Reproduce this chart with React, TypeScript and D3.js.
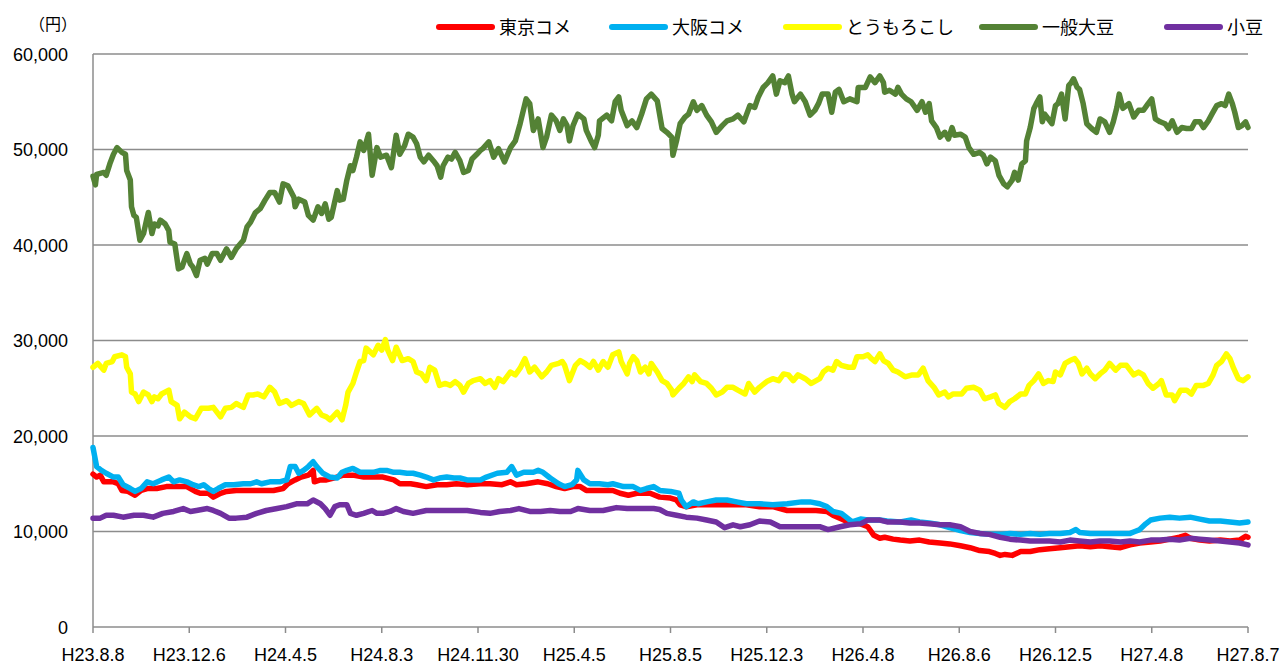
import React from 'react';
import * as d3 from 'd3';

type Pt = [number, number];

// x-axis category labels (trading-day index 0..960, one label every 80 days)
const tickLabels = ['H23.8.8', 'H23.12.6', 'H24.4.5', 'H24.8.3', 'H24.11.30', 'H25.4.5', 'H25.8.5', 'H25.12.3', 'H26.4.8', 'H26.8.6', 'H26.12.5', 'H27.4.8', 'H27.8.7'];
const tickDays = [0, 80, 160, 240, 320, 400, 480, 560, 640, 720, 800, 880, 960];
const yTicks = [0, 10000, 20000, 30000, 40000, 50000, 60000];

const seriesNames = ['東京コメ', '大阪コメ', 'とうもろこし', '一般大豆', '小豆'];
const seriesColors = ['#FF0000', '#00B0F0', '#FFFF00', '#548235', '#7030A0'];

// 東京コメ
const tokyoRice: Pt[] = [[0,16000],[3,15700],[6,15900],[9,15200],[13,15200],[17,15200],[21,15000],[24,14300],[29,14200],[35,13800],[40,14300],[45,14500],[53,14500],[61,14700],[70,14700],[78,14700],[85,14200],[89,14000],[96,14000],[100,13600],[106,14000],[111,14200],[119,14300],[128,14300],[139,14300],[150,14300],[158,14500],[162,15000],[168,15400],[173,15700],[179,15900],[183,16400],[184,15200],[189,15400],[194,15400],[200,15600],[208,15900],[216,15900],[225,15700],[233,15700],[241,15700],[250,15400],[255,15000],[264,15000],[269,14900],[277,14700],[286,14900],[294,14900],[302,15000],[311,14900],[322,15000],[330,15000],[340,14900],[347,15200],[352,14900],[360,15000],[370,15200],[378,15000],[385,14700],[392,14500],[399,14700],[405,14700],[410,14300],[419,14300],[432,14300],[438,14000],[445,13800],[452,14000],[463,14000],[471,13600],[480,13500],[485,13300],[488,12800],[493,12600],[502,12800],[510,12800],[521,12800],[532,12800],[543,12800],[554,12600],[565,12600],[577,12200],[588,12200],[596,12200],[601,12200],[610,12100],[615,11700],[624,11200],[629,11000],[638,10800],[644,10500],[649,9600],[654,9300],[658,9400],[665,9200],[671,9100],[679,9000],[687,9100],[695,8900],[704,8800],[712,8700],[721,8500],[729,8300],[737,8000],[745,7900],[750,7700],[754,7500],[758,7600],[764,7500],[771,7900],[779,7900],[787,8100],[795,8200],[804,8300],[812,8400],[820,8500],[829,8400],[837,8500],[845,8400],[854,8300],[862,8600],[870,8800],[879,8900],[887,9000],[895,9200],[903,9400],[908,9600],[912,9300],[920,9100],[928,9000],[937,9100],[945,9000],[953,9100],[958,9500],[960,9400]];

// 大阪コメ
const osakaRice: Pt[] = [[0,18800],[3,16800],[7,16400],[11,16100],[17,15700],[21,15700],[25,14900],[31,14500],[35,14200],[40,14500],[45,15200],[50,15000],[57,15400],[63,15700],[67,15200],[72,15400],[78,15200],[83,14900],[88,14700],[92,14900],[96,14500],[100,14200],[104,14500],[110,14900],[117,14900],[125,15000],[131,15000],[136,15200],[140,15000],[147,15200],[155,15200],[161,15400],[164,16800],[168,16800],[171,16100],[175,16400],[179,16800],[183,17300],[186,16800],[191,16100],[197,15700],[203,15600],[207,16200],[211,16400],[216,16600],[222,16200],[228,16200],[233,16200],[239,16400],[244,16400],[250,16200],[255,16200],[261,16100],[266,16100],[272,15900],[277,15700],[283,15400],[288,15600],[294,15700],[300,15600],[305,15600],[311,15400],[316,15400],[322,15400],[327,15700],[336,16100],[344,16200],[348,16800],[352,15900],[358,16200],[366,16200],[370,16400],[374,16200],[380,15600],[387,15000],[392,14700],[398,14900],[402,15400],[403,16400],[408,15400],[413,15000],[421,15000],[428,14900],[432,15000],[441,14700],[449,14700],[455,14300],[460,14500],[466,14700],[471,14300],[480,14200],[487,14000],[489,13300],[493,12600],[499,13100],[503,12900],[510,13100],[518,13300],[527,13300],[535,13100],[543,12900],[554,12900],[565,12800],[577,12900],[589,13100],[596,13100],[604,12900],[610,12600],[615,12100],[622,11900],[626,11500],[631,11000],[638,11300],[644,11200],[654,11200],[660,11100],[671,11000],[680,11200],[687,11000],[695,10900],[704,10700],[712,10400],[721,10100],[729,9900],[737,9800],[746,9700],[754,9700],[762,9800],[771,9700],[779,9800],[787,9700],[795,9800],[804,9800],[812,9900],[817,10200],[820,9900],[829,9800],[837,9800],[845,9800],[854,9800],[862,9800],[866,10000],[870,10200],[875,10800],[879,11200],[887,11400],[895,11500],[903,11400],[912,11500],[920,11300],[928,11100],[937,11100],[945,11000],[953,10900],[960,11000]];

// とうもろこし
const corn: Pt[] = [[0,27200],[4,27600],[9,26900],[11,27600],[16,27800],[18,28300],[24,28500],[27,28300],[28,27200],[31,26500],[32,24600],[35,24400],[38,23600],[42,24600],[46,24300],[49,23600],[51,24100],[54,23900],[57,24400],[63,24800],[65,23600],[70,23200],[72,21800],[76,22500],[81,22000],[85,21800],[90,22900],[96,22900],[100,23000],[106,22000],[110,22900],[115,23000],[119,23400],[125,23000],[129,24300],[133,24300],[137,24400],[142,24100],[147,25100],[151,24600],[155,23400],[161,23700],[165,23200],[171,23600],[175,23400],[180,22200],[186,22900],[190,22200],[194,22000],[197,21700],[203,22500],[207,21700],[210,23200],[212,24600],[216,25500],[219,26700],[222,27800],[225,27900],[227,29200],[233,28500],[237,29500],[240,29000],[243,30100],[245,29000],[249,27900],[252,29300],[257,27900],[262,28100],[266,27800],[269,26700],[273,26500],[277,25800],[280,27200],[284,26900],[288,25300],[293,25500],[297,25300],[301,25700],[305,25300],[308,24600],[312,25500],[316,25800],[322,26000],[326,25500],[330,25800],[334,25100],[337,26000],[341,25700],[347,26700],[351,26400],[355,27100],[359,28100],[363,26700],[367,27200],[373,26200],[377,26700],[381,27400],[387,27600],[390,27800],[392,27400],[396,25800],[401,27400],[405,27900],[409,27600],[413,27200],[416,27800],[420,26900],[424,27800],[428,27200],[432,28500],[437,28800],[439,27800],[444,26500],[446,27600],[449,28300],[452,27900],[455,26700],[459,27200],[462,26500],[464,27600],[469,26700],[473,25800],[477,25500],[481,24800],[482,24300],[487,25000],[491,25500],[495,26200],[498,25700],[500,26400],[505,25700],[510,25500],[514,25000],[518,24300],[523,24600],[527,25100],[532,25100],[536,24800],[542,24400],[545,25500],[550,24600],[554,25100],[560,25700],[565,26000],[570,25800],[574,26500],[578,26400],[582,25800],[586,26400],[592,26000],[597,25500],[604,26000],[607,26700],[611,27100],[615,26900],[618,27800],[622,27400],[628,27200],[632,27200],[635,28300],[640,28300],[644,28500],[647,28100],[650,27800],[654,28600],[657,27900],[661,27600],[665,26900],[669,26700],[675,26200],[681,26400],[686,26400],[690,27100],[694,25800],[699,25100],[703,24300],[708,24600],[711,24100],[715,24400],[722,24400],[726,25000],[732,25100],[737,24800],[741,23900],[746,24100],[750,24300],[753,23400],[758,23000],[762,23600],[766,23900],[771,24400],[775,24400],[778,25300],[782,25800],[786,26500],[790,25500],[794,25800],[798,25700],[800,26700],[804,26400],[808,27600],[812,27900],[816,28100],[819,27600],[822,26500],[826,27100],[829,26500],[833,26000],[837,26500],[841,26900],[845,27600],[850,26900],[854,27400],[859,27400],[865,26400],[869,26700],[873,26400],[877,25500],[881,25000],[886,25500],[888,25800],[892,24300],[897,24300],[899,23700],[904,24800],[909,24800],[913,24400],[917,25300],[923,25300],[927,25500],[931,26400],[934,27400],[938,27800],[942,28600],[945,28100],[948,27100],[952,26000],[956,25800],[960,26200]];

// 一般大豆
const soybean: Pt[] = [[0,47200],[2,46300],[3,47400],[9,47600],[11,47300],[14,48500],[17,49500],[20,50200],[24,49700],[27,49500],[28,47800],[31,46800],[32,44000],[34,43100],[36,42900],[39,40500],[42,41200],[45,42900],[46,43400],[49,41200],[51,42200],[54,42000],[56,42600],[60,42200],[63,41500],[64,40300],[68,40100],[71,37500],[74,37700],[78,39100],[81,38000],[83,37700],[86,36800],[89,38400],[93,38600],[95,38000],[99,39100],[103,39100],[106,38400],[111,39600],[115,38700],[119,39600],[125,40500],[128,41900],[131,42400],[135,43400],[139,43800],[143,44700],[147,45500],[151,45500],[155,44500],[158,46400],[162,46200],[167,45000],[168,44000],[171,44800],[176,44500],[179,43100],[183,42600],[187,44000],[190,43300],[193,44300],[196,42700],[198,42900],[203,45700],[205,44700],[208,44800],[211,46800],[214,48300],[216,47800],[219,49200],[222,50800],[225,49900],[229,51600],[232,47300],[236,50200],[239,49200],[244,49400],[248,48100],[252,51500],[255,49500],[259,50400],[262,51600],[266,51300],[269,50600],[272,49200],[275,48700],[279,49400],[283,48800],[286,48300],[289,47100],[291,48300],[295,49200],[298,49000],[301,49700],[305,48800],[308,47600],[312,47800],[315,49000],[319,49500],[322,49900],[324,50100],[329,50800],[333,49200],[337,50100],[342,48700],[347,50200],[351,50900],[355,52700],[360,55300],[363,54800],[366,52000],[370,53200],[374,50200],[377,51300],[381,53600],[385,53000],[388,52000],[391,53200],[394,52500],[396,50900],[399,52500],[403,53700],[408,53200],[410,52000],[414,50900],[417,50200],[420,51500],[421,53000],[427,53600],[431,53000],[434,55000],[437,55500],[439,54100],[444,52500],[448,53000],[452,52300],[456,53700],[460,55300],[464,55800],[469,55100],[473,52200],[477,51800],[481,51300],[482,49400],[485,50900],[488,52700],[492,53400],[495,53700],[499,55000],[502,54100],[506,54600],[510,53600],[514,52900],[518,51800],[523,52500],[527,53000],[532,53200],[536,53600],[541,52900],[543,53600],[546,54600],[550,54400],[553,55500],[557,56500],[561,57000],[565,57700],[568,55800],[571,57200],[575,57000],[578,57700],[581,55800],[583,55000],[588,55800],[592,55000],[596,53600],[600,54100],[603,54800],[606,55800],[611,55800],[614,53900],[617,56000],[620,56300],[624,55000],[629,55300],[635,55000],[636,56500],[642,56500],[646,57600],[650,57000],[654,57700],[657,57000],[658,56000],[662,56200],[667,55800],[669,56500],[672,55800],[676,55300],[680,55000],[685,54100],[689,55000],[692,53900],[695,54800],[697,53000],[701,52300],[704,51300],[708,51800],[711,51100],[714,52300],[716,51500],[721,51600],[725,51300],[728,50200],[732,49500],[737,49700],[740,49400],[743,48500],[746,49200],[750,48800],[753,47300],[757,46400],[760,46100],[764,46800],[766,47600],[769,46800],[772,48500],[775,48800],[776,50900],[779,52300],[782,54300],[784,54800],[787,55500],[789,52900],[791,53700],[794,53200],[797,52700],[800,54600],[802,54800],[805,55800],[808,53200],[811,56700],[813,57000],[815,57400],[818,56500],[820,56300],[823,54800],[826,52700],[830,52200],[834,51800],[837,53200],[841,52900],[845,51800],[848,52900],[851,54400],[853,55800],[856,54300],[861,54800],[865,53400],[869,54100],[873,54100],[877,54800],[880,55300],[883,53200],[887,52900],[891,52700],[894,52200],[897,53000],[901,51800],[905,52300],[909,52200],[913,52200],[916,52900],[920,52900],[923,52300],[927,53000],[930,53700],[934,54600],[938,54800],[941,54600],[944,55800],[947,54800],[949,53900],[952,52300],[955,52500],[958,52900],[960,52300]];

// 小豆
const redBean: Pt[] = [[0,11400],[6,11400],[11,11700],[17,11700],[25,11500],[34,11700],[42,11700],[50,11500],[58,11900],[67,12100],[75,12400],[81,12100],[86,12200],[95,12400],[100,12200],[106,11900],[113,11400],[119,11400],[128,11500],[136,11900],[144,12200],[153,12400],[161,12600],[169,12900],[178,12900],[183,13300],[189,12900],[193,12400],[197,11700],[201,12600],[205,12800],[211,12800],[214,11900],[219,11700],[225,11900],[232,12200],[236,11900],[241,11900],[247,12100],[252,12400],[258,12100],[266,11900],[277,12200],[288,12200],[300,12200],[311,12200],[322,12000],[330,11900],[338,12100],[347,12200],[354,12400],[363,12100],[372,12100],[380,12200],[388,12100],[397,12100],[403,12400],[413,12200],[424,12200],[435,12500],[444,12400],[455,12400],[466,12400],[471,12300],[477,11900],[485,11700],[493,11500],[502,11400],[510,11200],[518,11000],[525,10400],[532,10700],[538,10500],[546,10700],[554,11100],[563,11000],[571,10500],[582,10500],[593,10500],[604,10500],[611,10200],[621,10500],[629,10700],[638,10800],[644,11200],[654,11200],[660,11000],[671,11000],[679,10900],[687,10900],[695,10800],[704,10700],[712,10700],[721,10500],[729,10000],[737,9800],[745,9700],[754,9400],[762,9200],[771,9100],[779,9000],[787,9000],[795,9000],[804,8900],[812,9100],[820,9000],[829,8900],[837,9000],[845,9000],[854,8900],[862,9000],[870,8900],[879,9100],[887,9100],[895,9200],[903,9100],[912,9300],[920,9200],[928,9100],[937,9000],[945,8900],[953,8800],[960,8600]];

const seriesData: Pt[][] = [tokyoRice, osakaRice, corn, soybean, redBean];

const W = 1281;
const H = 664;
const M = { left: 93, right: 1248, top: 54, bottom: 627 };
const legendLineX = [439, 612, 786, 982, 1167];
const GRID = '#8c8c8c';
const NUM_FONT = '"Liberation Sans", Arial, sans-serif';
const JP_FONT = '"Noto Sans CJK JP", "Noto Sans", sans-serif';

export default function App() {
  const x = d3.scaleLinear().domain([0, 960]).range([M.left, M.right]);
  const y = d3.scaleLinear().domain([0, 60000]).range([M.bottom, M.top]);
  const line = d3
    .line<Pt>()
    .x((d) => x(d[0]))
    .y((d) => y(d[1]))
    .curve(d3.curveLinear);
  const fmt = d3.format(',');

  return (
    <div style={{ position: 'absolute', left: 0, top: 0, width: W, height: H, background: '#fff' }}>
      <svg width={W} height={H} style={{ display: 'block' }}>
        <rect x={0} y={0} width={W} height={H} fill="#fff" />
        {/* gridlines */}
        {yTicks.filter((t) => t > 0).map((t) => (
          <line key={t} x1={M.left} x2={M.right} y1={y(t)} y2={y(t)} stroke={GRID} strokeWidth={1.5} />
        ))}
        {/* axes */}
        <line x1={M.left} x2={M.left} y1={M.top} y2={M.bottom} stroke={GRID} strokeWidth={1.5} />
        <line x1={M.left} x2={M.right} y1={M.bottom} y2={M.bottom} stroke={GRID} strokeWidth={1.5} />
        {tickDays.map((d) => (
          <line key={d} x1={x(d)} x2={x(d)} y1={M.bottom} y2={M.bottom + 6} stroke={GRID} strokeWidth={1.5} />
        ))}
        {/* y labels */}
        {yTicks.map((t) => (
          <text key={t} x={68} y={y(t) + 6.5} textAnchor="end" fontFamily={NUM_FONT} fontSize={18} fill="#000">
            {fmt(t)}
          </text>
        ))}
        <text x={29} y={30} fontFamily={JP_FONT} fontSize={16} fill="#000">（円）</text>
        {/* x labels */}
        {tickDays.map((d, i) => (
          <text key={d} x={x(d)} y={661} textAnchor="middle" fontFamily={NUM_FONT} fontSize={18} fill="#000">
            {tickLabels[i]}
          </text>
        ))}
        {/* series */}
        {seriesData.map((s, i) => (
          <path
            key={seriesNames[i]}
            d={line(s) || ''}
            fill="none"
            stroke={seriesColors[i]}
            strokeWidth={5.5}
            strokeLinejoin="round"
            strokeLinecap="round"
          />
        ))}
        {/* legend */}
        {seriesNames.map((n, i) => (
          <g key={n}>
            <line x1={legendLineX[i]} x2={legendLineX[i] + 53} y1={27} y2={27} stroke={seriesColors[i]} strokeWidth={6} strokeLinecap="round" />
            <text x={legendLineX[i] + 60} y={34} fontFamily={JP_FONT} fontSize={18} fill="#000">
              {n}
            </text>
          </g>
        ))}
      </svg>
    </div>
  );
}
